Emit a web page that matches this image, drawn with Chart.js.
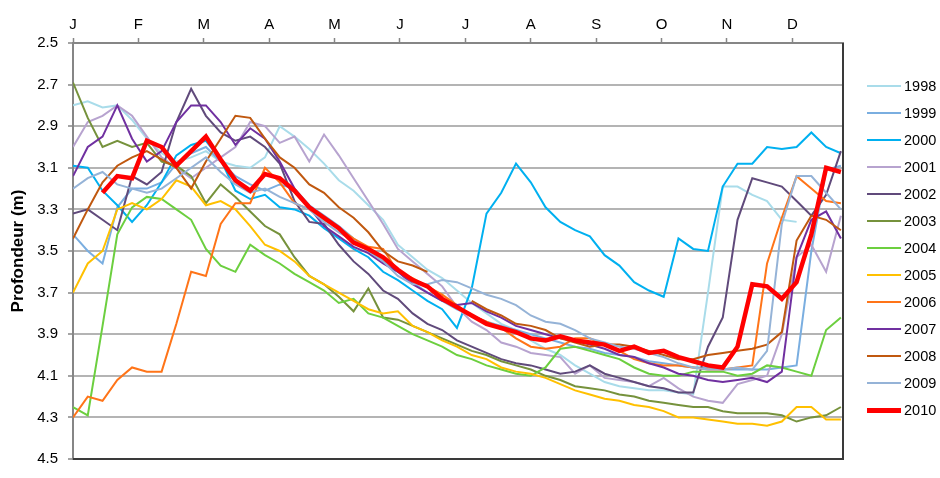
<!DOCTYPE html>
<html>
<head>
<meta charset="utf-8">
<script src="https://cdn.jsdelivr.net/npm/chart.js@4.4.1/dist/chart.umd.min.js"></script>
<style>
  html, body { margin: 0; padding: 0; background: #fff; }
  #wrap { position: relative; width: 940px; height: 478px; }
  #legend { position: absolute; left: 867px; top: 0; font-family: "Liberation Sans", Arial, sans-serif; font-size: 14.5px; color: #000; }
  .item { position: absolute; left: 0; width: 80px; height: 20px; }
  .item .ln { position: absolute; left: 0; width: 34px; }
  .item .tx { position: absolute; left: 37px; top: 1px; line-height: 18px; }
</style>
</head>
<body>
<div id="wrap">
  <canvas id="chart" width="940" height="478"></canvas>
  <div id="legend"></div>
</div>
<script>
// --- Data (depth in m, sampled weekly, day of year) ---
const days = [0, 7, 14, 21, 28, 35, 42, 49, 56, 63, 70, 77, 84, 91, 98, 105, 112, 119, 126, 133,
  140, 147, 154, 161, 168, 175, 182, 189, 196, 203, 210, 217, 224, 231, 238, 245, 252, 259, 266, 273,
  280, 287, 294, 301, 308, 315, 322, 329, 336, 343, 350, 357, 364];

const monthTicks = [0, 31, 62, 93, 124, 155, 186, 217, 248, 279, 310, 341];
const monthLabels = ['J', 'F', 'M', 'A', 'M', 'J', 'J', 'A', 'S', 'O', 'N', 'D'];
const depthTicks = [2.5, 2.7, 2.9, 3.1, 3.3, 3.5, 3.7, 3.9, 4.1, 4.3, 4.5];

const years = ['1998', '1999', '2000', '2001', '2002', '2003', '2004', '2005', '2006', '2007', '2008', '2009', '2010'];
const colors = ['#a9dcea', '#7aaee0', '#00b0f0', '#b7a3cf', '#604a7b', '#76923c', '#6ccf3f',
  '#ffc000', '#ff7418', '#7030a0', '#c0580f', '#95b3d7', '#ff0000'];

const d1998 = [2.8, 2.78, 2.81, 2.8, 2.87, 2.96, 3.03, 3.07, 3.05, 3.02, 3.07, 3.09, 3.1, 3.05, 2.9, 2.95, 3.01, 3.08, 3.16, 3.21,
  3.28, 3.35, 3.47, 3.53, 3.59, 3.63, 3.69, 3.75, 3.8, 3.85, 3.88, 3.93, 3.97, 4.0, 4.05, 4.09, 4.13, 4.15, 4.16, 4.17,
  4.17, 4.18, 4.19, 3.7, 3.19, 3.19, 3.23, 3.26, 3.35, 3.36, null, null, null];
const d1999 = [3.42, 3.5, 3.56, 3.29, 3.2, 3.2, 3.17, 3.08, 3.03, 3.0, 3.07, 3.14, 3.18, 3.21, 3.18, 3.2, 3.28, 3.33, 3.38, 3.44,
  3.5, 3.55, 3.6, 3.65, 3.7, 3.74, 3.78, 3.81, 3.84, 3.86, 3.88, 3.9, 3.92, 3.94, 3.96, 3.97, 3.99, 4.0, 4.01, 4.03,
  4.04, 4.05, 4.06, 4.06, 4.07, 4.07, 4.07, 4.07, 4.06, 4.05, 3.5, 3.11, 3.09];
const d2000 = [3.09, 3.1, 3.21, 3.28, 3.36, 3.28, 3.17, 3.04, 2.99, 2.97, 3.06, 3.21, 3.25, 3.23, 3.29, 3.3, 3.33, 3.39, 3.44, 3.49,
  3.53, 3.6, 3.64, 3.69, 3.74, 3.78, 3.87, 3.68, 3.32, 3.22, 3.08, 3.17, 3.29, 3.36, 3.4, 3.43, 3.52, 3.57, 3.65, 3.69,
  3.72, 3.44, 3.49, 3.5, 3.19, 3.08, 3.08, 3.0, 3.01, 3.0, 2.93, 3.0, 3.03];
const d2001 = [3.0, 2.88, 2.85, 2.8, 2.85, 2.95, 3.05, 3.1, 3.15, 3.1, 3.05, 3.0, 2.88, 2.9, 2.98, 2.95, 3.07, 2.94, 3.04, 3.15,
  3.26, 3.37, 3.49, 3.55, 3.61, 3.67, 3.77, 3.84, 3.88, 3.94, 3.96, 3.99, 4.0, 4.01, 4.09, 4.05, 4.11, 4.12, 4.13, 4.15,
  4.11, 4.16, 4.2, 4.22, 4.23, 4.14, 4.12, 4.1, 3.9, 3.53, 3.47, 3.6, 3.33];
const d2002 = [3.32, 3.3, 3.35, 3.4, 3.14, 3.18, 3.12, 2.88, 2.72, 2.85, 2.93, 2.97, 2.95, 3.0, 3.08, 3.26, 3.36, 3.37, 3.47, 3.55,
  3.61, 3.69, 3.73, 3.8, 3.85, 3.88, 3.93, 3.96, 3.99, 4.02, 4.04, 4.05, 4.07, 4.09, 4.08, 4.05, 4.09, 4.11, 4.13, 4.15,
  4.16, 4.18, 4.18, 3.96, 3.82, 3.35, 3.15, 3.17, 3.19, 3.26, 3.33, 3.23, 3.02];
const d2003 = [2.69, 2.86, 3.0, 2.97, 3.0, 2.98, 3.07, 3.09, 3.14, 3.27, 3.18, 3.24, 3.31, 3.38, 3.42, 3.53, 3.62, 3.66, 3.72, 3.79,
  3.68, 3.82, 3.83, 3.86, 3.89, 3.92, 3.95, 3.98, 4.0, 4.03, 4.05, 4.07, 4.1, 4.12, 4.15, 4.16, 4.17, 4.19, 4.2, 4.22,
  4.23, 4.24, 4.25, 4.25, 4.27, 4.28, 4.28, 4.28, 4.29, 4.32, 4.3, 4.29, 4.25];
const d2004 = [4.25, 4.29, 3.86, 3.42, 3.29, 3.24, 3.25, 3.3, 3.35, 3.49, 3.57, 3.6, 3.47, 3.52, 3.56, 3.61, 3.65, 3.69, 3.75, 3.73,
  3.8, 3.82, 3.86, 3.9, 3.93, 3.96, 4.0, 4.02, 4.05, 4.07, 4.09, 4.1, 4.06, 3.97, 3.96, 3.98, 4.0, 4.02, 4.06, 4.09,
  4.1, 4.1, 4.08, 4.08, 4.08, 4.1, 4.09, 4.05, 4.06, 4.08, 4.1, 3.88, 3.82];
const d2005 = [3.7, 3.56, 3.5, 3.3, 3.27, 3.3, 3.25, 3.16, 3.19, 3.28, 3.26, 3.3, 3.38, 3.47, 3.5, 3.55, 3.62, 3.66, 3.7, 3.74,
  3.78, 3.8, 3.79, 3.86, 3.89, 3.93, 3.96, 4.0, 4.02, 4.06, 4.08, 4.09, 4.11, 4.14, 4.17, 4.19, 4.21, 4.22, 4.24, 4.25,
  4.27, 4.3, 4.3, 4.31, 4.32, 4.33, 4.33, 4.34, 4.32, 4.25, 4.25, 4.31, 4.31];
const d2006 = [4.3, 4.2, 4.22, 4.12, 4.06, 4.08, 4.08, 3.85, 3.6, 3.62, 3.37, 3.27, 3.27, 3.1, 3.17, 3.27, 3.3, 3.35, 3.39, 3.44,
  3.48, 3.49, 3.6, 3.63, 3.67, 3.71, 3.76, 3.81, 3.84, 3.87, 3.92, 3.96, 3.97, 3.96, 3.92, 3.92, 3.95, 3.98, 4.02, 4.04,
  4.05, 4.05, 4.06, 4.07, 4.07, 4.06, 4.05, 3.56, 3.34, 3.14, 3.2, 3.26, 3.27];
const d2007 = [3.14, 3.0, 2.95, 2.8, 2.96, 3.07, 3.02, 2.88, 2.8, 2.8, 2.88, 2.99, 2.91, 2.96, 3.07, 3.2, 3.29, 3.38, 3.43, 3.48,
  3.51, 3.56, 3.6, 3.66, 3.7, 3.74, 3.76, 3.75, 3.79, 3.82, 3.86, 3.88, 3.9, 3.92, 3.93, 3.95, 3.97, 4.0, 4.01, 4.04,
  4.06, 4.09, 4.1, 4.12, 4.13, 4.12, 4.11, 4.13, 4.08, 3.53, 3.35, 3.31, 3.44];
const d2008 = [3.44, 3.3, 3.17, 3.09, 3.05, 3.02, 3.06, 3.1, 3.2, 3.07, 2.96, 2.85, 2.86, 2.96, 3.05, 3.1, 3.18, 3.22, 3.29, 3.34,
  3.41, 3.5, 3.55, 3.57, 3.6, null, null, 3.74, 3.78, 3.81, 3.85, 3.86, 3.88, 3.92, 3.94, 3.96, 3.95, 3.95, 3.96, 3.98,
  4.0, 4.02, 4.02, 4.0, 3.99, 3.98, 3.97, 3.95, 3.89, 3.45, 3.33, 3.35, 3.4];
const d2009 = [3.2, 3.15, 3.12, 3.18, 3.2, 3.22, 3.2, 3.15, 3.1, 3.05, 3.12, 3.18, 3.22, 3.2, 3.24, 3.27, 3.3, 3.36, 3.41, 3.45,
  3.5, 3.55, 3.62, 3.66, 3.66, 3.64, 3.65, 3.68, 3.71, 3.73, 3.76, 3.81, 3.84, 3.85, 3.88, 3.92, 3.94, 3.96, 3.97, 3.99,
  4.01, 4.04, 4.06, 4.07, 4.07, 4.06, 4.07, 3.98, 3.37, 3.14, 3.14, 3.22, 3.3];
const d2010 = [null, null, 3.22, 3.14, 3.15, 2.97, 3.0, 3.09, 3.02, 2.95, 3.06, 3.16, 3.21, 3.13, 3.15, 3.21, 3.29, 3.34, 3.39, 3.46,
  3.49, 3.53, 3.59, 3.64, 3.67, 3.73, 3.77, 3.81, 3.85, 3.87, 3.89, 3.92, 3.93, 3.91, 3.93, 3.94, 3.95, 3.98, 3.96, 3.99,
  3.98, 4.01, 4.03, 4.05, 4.06, 3.96, 3.66, 3.67, 3.73, 3.65, 3.42, 3.1, 3.12];

const series = [d1998, d1999, d2000, d2001, d2002, d2003, d2004, d2005, d2006, d2007, d2008, d2009, d2010];

const FONT = '"Liberation Sans", Arial, sans-serif';

// --- Datasets ---
const datasets = series.map((vals, i) => ({
    label: years[i],
    data: vals.map((v, k) => ({ x: days[k], y: v })),
    borderColor: colors[i],
    backgroundColor: colors[i],
    borderWidth: years[i] === '2010' ? 4.5 : 2,
    pointRadius: 0,
    tension: 0,
    spanGaps: false,
    order: series.length - i   // later years drawn on top
}));

// plot frame on bottom and right
const framePlugin = {
    id: 'frame',
    afterDatasetsDraw(chart) {
        const { ctx, chartArea: a } = chart;
        ctx.save();
        ctx.strokeStyle = '#3a3a3a';
        ctx.lineWidth = 2;
        ctx.beginPath();
        ctx.moveTo(a.left, a.bottom);
        ctx.lineTo(a.right, a.bottom);
        ctx.lineTo(a.right, a.top);
        ctx.stroke();
        ctx.restore();
    }
};

new Chart(document.getElementById('chart'), {
    type: 'line',
    data: { datasets },
    options: {
        responsive: false,
        animation: false,
        events: [],
        layout: { padding: { left: 0, top: 0, right: 97, bottom: 6 } },
        plugins: {
            legend: { display: false },
            tooltip: { enabled: false }
        },
        scales: {
            x: {
                type: 'linear',
                position: 'top',
                min: 0,
                max: 365,
                afterBuildTicks: (scale) => { scale.ticks = monthTicks.map(v => ({ value: v })); },
                afterFit: (scale) => { scale.height = 43; },
                ticks: {
                    autoSkip: false,
                    maxRotation: 0,
                    padding: 4,
                    color: '#000',
                    font: { family: FONT, size: 15 },
                    callback: (v) => monthLabels[monthTicks.indexOf(v)]
                },
                grid: { drawOnChartArea: false, drawTicks: true, tickLength: 5, tickColor: '#868686', tickWidth: 1.5 },
                border: { display: true, color: '#868686', width: 2 }
            },
            y: {
                type: 'linear',
                reverse: true,
                min: 2.5,
                max: 4.5,
                afterBuildTicks: (scale) => { scale.ticks = depthTicks.map(v => ({ value: v })); },
                afterFit: (scale) => { scale.width = 73; },
                ticks: {
                    padding: 10,
                    color: '#000',
                    font: { family: FONT, size: 15 },
                    callback: (v) => v.toFixed(1)
                },
                title: {
                    display: true,
                    text: 'Profondeur (m)',
                    color: '#000',
                    font: { family: FONT, size: 17, weight: 'bold' },
                    padding: { top: 8, bottom: 0 }
                },
                grid: { color: '#b4b4b4', lineWidth: 2, tickLength: 5, tickColor: '#868686', tickWidth: 1.5 },
                border: { display: true, color: '#868686', width: 2 }
            }
        }
    },
    plugins: [framePlugin]
});

// --- Legend (HTML) ---
const legend = document.getElementById('legend');
years.forEach((yr, i) => {
    const item = document.createElement('div');
    item.className = 'item';
    item.style.top = (76 + i * 27) + 'px';
    const w = yr === '2010' ? 5 : 2.5;
    item.innerHTML = '<div class="ln" style="top:' + (10 - w / 2) + 'px;height:' + w + 'px;background:' + colors[i] + '"></div>' +
        '<div class="tx">' + yr + '</div>';
    legend.appendChild(item);
});
</script>
</body>
</html>
